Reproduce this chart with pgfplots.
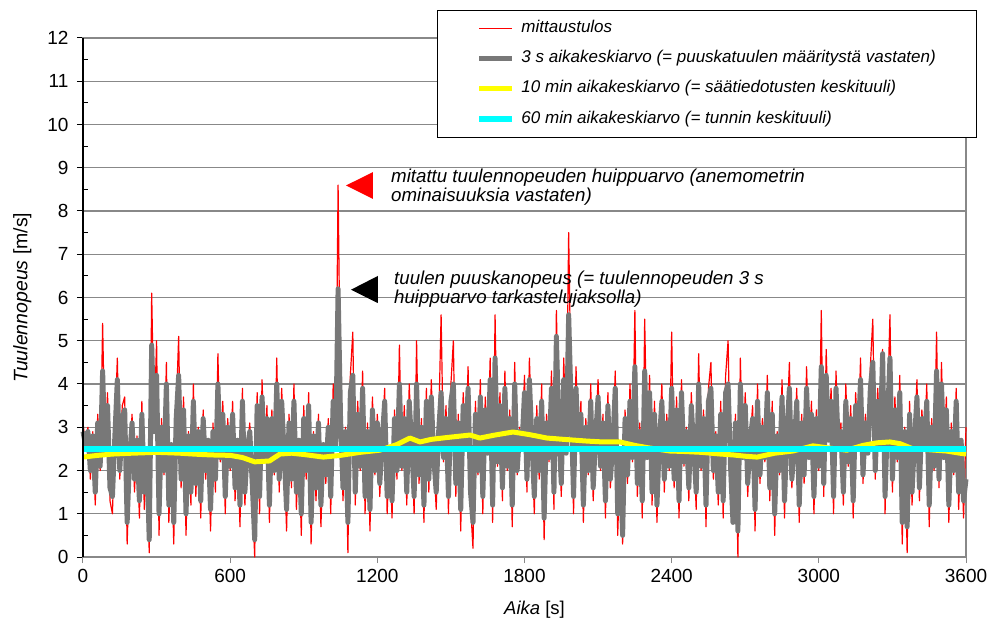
\documentclass[border=0pt]{standalone}
\usepackage{fontspec}
\setmainfont{Liberation Sans}
\usepackage{pgfplots}
\pgfplotsset{compat=1.18}
\usepackage{pgfplotstable}
\definecolor{gridc}{RGB}{136,136,136}
\definecolor{greyc}{RGB}{120,120,120}
\definecolor{yel}{RGB}{255,255,0}
\definecolor{cya}{RGB}{0,255,255}
\pgfplotstableread{
t r g
0 3.1 2.9
10 2.6 2.6
20 3.0 2.9
30 1.8 2.0
40 2.9 2.8
50 1.2 1.5
60 3.3 3.1
70 2.0 2.1
80 5.4 4.3
90 2.4 2.4
100 3.8 3.5
110 1.3 1.6
120 1.0 1.4
130 2.9 2.8
140 4.6 4.1
150 1.8 2.0
160 3.5 3.2
170 3.7 3.4
180 0.3 0.8
190 2.2 2.3
200 3.3 3.1
210 1.5 1.8
220 2.8 2.7
230 0.9 1.3
240 3.6 3.3
250 1.1 1.5
260 2.4 2.4
270 0.1 0.4
280 6.1 4.9
290 3.0 2.9
300 5.0 4.2
310 0.5 1.0
320 3.2 3.0
330 1.9 2.0
340 4.5 4.0
350 0.8 1.2
360 2.6 2.6
370 0.3 0.8
380 3.4 3.2
390 5.1 4.2
400 1.6 1.8
410 3.7 3.4
420 0.5 1.0
430 2.9 2.8
440 1.2 1.5
450 4.0 3.6
460 1.4 1.7
470 3.0 2.9
480 0.9 1.3
490 3.4 3.2
500 1.8 2.0
510 2.7 2.7
520 0.6 1.1
530 3.1 2.9
540 1.5 1.8
550 4.7 4.0
560 2.2 2.3
570 3.6 3.3
580 1.0 1.4
590 3.2 3.0
600 2.0 2.1
610 3.6 3.3
620 1.3 1.6
630 2.7 2.7
640 0.7 1.2
650 3.9 3.6
660 1.2 1.5
670 2.5 2.5
680 3.1 2.9
690 1.4 1.7
700 0.0 0.4
710 3.8 3.5
720 1.0 1.4
730 4.1 3.7
740 2.3 2.3
750 3.5 3.2
760 0.8 1.2
770 3.4 3.2
780 1.9 2.0
790 4.6 4.0
800 1.5 1.8
810 3.9 3.6
820 2.4 2.4
830 0.6 1.1
840 3.3 3.1
850 1.6 1.8
860 4.0 3.6
870 1.1 1.5
880 2.7 2.7
890 0.5 1.0
900 3.5 3.2
910 1.8 2.0
920 3.8 3.5
930 0.3 0.8
940 2.9 2.8
950 1.3 1.6
960 3.3 3.1
970 0.7 1.2
980 2.6 2.6
990 1.7 1.9
1000 3.2 3.0
1010 1.0 1.4
1020 4.0 3.6
1030 2.5 2.5
1040 8.6 6.2
1050 3.5 3.2
1060 1.3 1.6
1070 3.0 2.9
1080 0.1 0.8
1090 4.2 3.8
1100 5.2 4.2
1110 1.2 1.5
1120 3.6 3.3
1130 2.0 2.1
1140 4.3 3.9
1150 1.0 1.4
1160 3.1 2.9
1170 0.6 1.1
1180 3.7 3.4
1190 1.9 2.0
1200 3.3 3.1
1210 1.4 1.7
1220 2.8 2.7
1230 3.9 3.6
1240 1.0 1.4
1250 2.5 2.5
1260 0.9 1.3
1270 3.4 3.2
1280 1.8 2.0
1290 4.9 4.0
1300 2.0 2.1
1310 3.5 3.2
1320 1.2 1.5
1330 4.0 3.6
1340 2.6 2.6
1350 1.0 1.4
1360 5.0 4.0
1370 1.7 1.9
1380 3.2 3.0
1390 0.8 1.2
1400 3.9 3.6
1410 1.5 1.8
1420 4.1 3.7
1430 2.3 2.3
1440 1.1 1.5
1450 3.0 2.9
1460 5.6 3.8
1470 2.2 2.3
1480 3.5 3.2
1490 1.0 1.4
1500 4.0 3.6
1510 5.0 4.0
1520 1.4 1.7
1530 3.3 3.1
1540 0.6 1.1
1550 3.8 3.5
1560 2.5 2.5
1570 4.4 3.9
1580 1.2 1.5
1590 0.2 0.8
1600 3.6 3.3
1610 1.9 2.0
1620 4.1 3.7
1630 1.0 1.4
1640 3.7 3.4
1650 2.4 2.4
1660 4.6 4.1
1670 0.8 1.2
1680 5.6 4.6
1690 2.1 2.2
1700 3.8 3.5
1710 1.3 1.6
1720 4.3 3.9
1730 2.0 2.1
1740 3.4 3.2
1750 0.7 1.2
1760 4.5 4.0
1770 1.9 2.0
1780 3.0 2.9
1790 2.6 2.6
1800 4.2 3.8
1810 1.5 1.8
1820 4.6 4.1
1830 2.7 2.7
1840 1.0 1.4
1850 3.5 3.2
1860 1.8 2.0
1870 4.0 3.6
1880 0.4 0.9
1890 3.3 3.1
1900 2.2 2.3
1910 4.3 3.9
1920 1.1 1.5
1930 5.7 5.1
1940 3.0 2.9
1950 1.4 1.7
1960 4.6 4.1
1970 2.4 2.4
1980 7.5 5.6
1990 3.8 3.5
2000 1.0 1.4
2010 4.4 3.9
2020 2.5 2.5
2030 3.6 3.3
2040 0.8 1.2
2050 3.2 3.0
2060 1.9 2.0
2070 4.0 3.6
2080 1.3 1.6
2090 2.9 2.8
2100 4.1 3.7
2110 2.0 2.1
2120 3.3 3.1
2130 0.9 1.3
2140 3.8 3.5
2150 1.6 1.8
2160 2.6 2.6
2170 4.3 3.9
2180 0.5 1.0
2190 2.4 2.4
2200 0.3 0.5
2210 3.4 3.2
2220 1.7 1.9
2230 4.0 3.6
2240 2.2 2.3
2250 5.7 4.4
2260 1.4 1.7
2270 3.1 2.9
2280 0.9 1.3
2290 5.5 4.3
2300 2.3 2.3
2310 4.2 3.8
2320 1.2 1.5
2330 3.6 3.3
2340 0.8 1.2
2350 2.7 2.7
2360 4.0 3.6
2370 1.5 1.8
2380 3.3 3.1
2390 2.0 2.1
2400 5.2 3.9
2410 1.6 1.8
2420 3.7 3.4
2430 0.9 1.3
2440 4.1 3.8
2450 2.1 2.2
2460 3.0 2.9
2470 1.3 1.6
2480 3.8 3.5
2490 2.5 2.5
2500 1.1 1.5
2510 4.7 4.0
2520 2.0 2.1
2530 3.4 3.2
2540 0.7 1.2
2550 3.9 3.6
2560 4.5 3.9
2570 1.8 2.0
2580 2.9 2.8
2590 1.2 1.5
2600 3.6 3.3
2610 0.9 1.3
2620 4.2 3.8
2630 5.0 4.0
2640 2.0 2.1
2650 1.0 0.8
2660 3.3 3.1
2670 0.0 0.6
2680 4.6 4.0
2690 2.3 2.3
2700 3.8 3.5
2710 1.4 1.7
2720 2.7 2.7
2730 3.5 3.2
2740 0.6 1.1
2750 4.0 3.6
2760 1.7 1.9
2770 3.2 3.0
2780 2.2 2.3
2790 4.2 3.8
2800 1.3 1.6
2810 3.6 3.3
2820 0.5 1.0
2830 2.9 2.8
2840 1.9 2.0
2850 4.1 3.7
2860 0.9 1.3
2870 3.0 2.9
2880 4.5 3.9
2890 1.6 1.8
2900 2.6 2.6
2910 3.9 3.6
2920 0.8 1.2
2930 3.3 3.1
2940 1.7 1.9
2950 4.4 3.9
2960 2.3 2.3
2970 3.6 3.3
2980 1.0 1.4
2990 3.4 3.2
3000 2.0 2.1
3010 5.7 4.4
3020 1.4 1.7
3030 4.8 4.2
3040 2.7 2.7
3050 3.9 3.6
3060 1.0 1.4
3070 4.3 3.9
3080 2.5 2.5
3090 3.1 2.9
3100 1.2 1.5
3110 4.0 3.6
3120 2.1 2.2
3130 3.5 3.2
3140 0.9 1.3
3150 3.8 3.5
3160 2.6 2.6
3170 4.6 4.1
3180 1.7 1.9
3190 3.3 3.1
3200 2.4 2.4
3210 4.4 3.9
3220 5.5 4.5
3230 1.8 2.0
3240 3.9 3.6
3250 2.6 2.6
3260 4.8 4.7
3270 1.0 1.4
3280 3.5 3.2
3290 5.6 4.6
3300 1.5 1.8
3310 3.7 3.4
3320 2.2 2.3
3330 4.2 3.8
3340 0.3 0.8
3350 3.0 2.9
3360 0.1 0.7
3370 3.6 3.3
3380 1.2 1.5
3390 2.8 2.7
3400 4.1 3.7
3410 1.3 1.6
3420 3.4 3.2
3430 2.5 2.5
3440 4.0 3.6
3450 0.7 1.2
3460 3.2 3.0
3470 2.0 2.1
3480 5.2 4.3
3490 1.6 1.8
3500 4.5 4.0
3510 2.3 2.3
3520 3.7 3.4
3530 0.8 1.2
3540 3.1 2.9
3550 1.9 2.0
3560 3.9 3.6
3570 1.1 1.5
3580 2.7 2.7
3590 0.9 1.3
3600 3.0 1.8
}\wind
\pgfplotstableread{
t y
0 2.31
60 2.35
120 2.38
200 2.40
300 2.42
395 2.40
450 2.38
520 2.36
600 2.35
650 2.30
700 2.20
760 2.22
803 2.38
850 2.40
900 2.37
980 2.31
1050 2.35
1130 2.42
1211 2.47
1280 2.60
1333 2.75
1374 2.66
1420 2.72
1480 2.76
1578 2.82
1618 2.75
1680 2.82
1753 2.89
1820 2.83
1892 2.75
1960 2.72
2055 2.68
2120 2.66
2189 2.66
2250 2.58
2299 2.53
2393 2.45
2450 2.44
2520 2.42
2600 2.38
2650 2.36
2700 2.33
2748 2.31
2820 2.40
2894 2.45
2976 2.57
3040 2.52
3114 2.47
3180 2.58
3237 2.64
3290 2.66
3331 2.62
3384 2.50
3450 2.48
3520 2.45
3575 2.40
3600 2.38
}\yellowavg
\begin{document}
\begin{tikzpicture}
\begin{axis}[name=ax, scale only axis, width=883pt, height=519pt,
  xmin=0, xmax=3600, ymin=0, ymax=12, clip=false,
  xtick={0,600,...,3600}, ytick={0,1,...,12}, minor y tick num=1,
  xtick pos=bottom, ytick pos=left, tick align=outside,
  major tick length=6pt, minor tick length=5pt,
  y tick style={black, line width=1pt}, x tick style={gridc, line width=1pt},
  minor y tick style={xshift=5pt},
  ymajorgrids, major grid style={gridc, line width=1.4pt},
  axis line style={gridc, line width=1.4pt},
  tick label style={font=\fontsize{19}{21}\selectfont},
  yticklabel style={xshift=-5pt},
  xticklabel style={yshift=-3pt},
  /pgf/number format/assume math mode=true,
  /pgf/number format/set thousands separator={},
  xlabel={\textit{Aika} [s]}, ylabel={\textit{Tuulennopeus} [m/s]},
  xlabel style={font=\fontsize{18.5}{20}\selectfont, xshift=10pt},
  ylabel style={font=\fontsize{19.5}{21}\selectfont},
  xlabel shift=11pt, ylabel shift=9pt,
  legend cell align=left,
  legend image code/.code={\draw[#1] (0pt,0pt) -- (33pt,0pt);},
  legend style={at={(rel axis cs:0.401,1.054)}, anchor=north west,
    draw=black, line width=0.8pt, fill=white,
    font=\fontsize{17}{19}\selectfont\itshape,
    inner xsep=39pt, inner ysep=8pt, row sep=10.3pt, column sep=4pt,
    nodes={inner sep=2pt, text height=12pt, text depth=4pt}},
]
\addplot[red, line width=1.2pt, line join=round] table[x=t, y=r] {\wind};
\addlegendentry{mittaustulos}
\addplot[greyc, line width=5pt, line join=round] table[x=t, y=g] {\wind};
\addlegendentry{3 s aikakeskiarvo (= puuskatuulen määritystä vastaten)}
\addplot[yel, line width=5pt, line join=round] table[x=t, y=y] {\yellowavg};
\addlegendentry{10 min aikakeskiarvo (= säätiedotusten keskituuli)}
\addplot[cya, line width=6pt] coordinates {(0,2.5) (3600,2.5)};
\addlegendentry{60 min aikakeskiarvo (= tunnin keskituuli)}
\draw[black, line width=1.2pt] (rel axis cs:0,0) -- (rel axis cs:0,1);
\fill[red] (axis cs:1072.2,8.59) -- (axis cs:1182.3,8.90) -- (axis cs:1182.3,8.28) -- cycle;
\fill[black] (axis cs:1092.6,6.18) -- (axis cs:1202.7,6.50) -- (axis cs:1202.7,5.87) -- cycle;
\node[anchor=base west, inner sep=0pt, font=\fontsize{18.7}{20}\selectfont\itshape] at (axis cs:1255.7,8.67) {mitattu tuulennopeuden huippuarvo (anemometrin};
\node[anchor=base west, inner sep=0pt, font=\fontsize{18.7}{20}\selectfont\itshape] at (axis cs:1255.7,8.21) {ominaisuuksia vastaten)};
\node[anchor=base west, inner sep=0pt, font=\fontsize{18.7}{20}\selectfont\itshape] at (axis cs:1267.9,6.31) {tuulen puuskanopeus (= tuulennopeuden 3 s};
\node[anchor=base west, inner sep=0pt, font=\fontsize{18.7}{20}\selectfont\itshape] at (axis cs:1267.9,5.85) {huippuarvo tarkastelujaksolla)};
\end{axis}
\pgfresetboundingbox
\path[use as bounding box] ([xshift=-83pt,yshift=-64pt]ax.south west) rectangle ([xshift=21pt,yshift=38pt]ax.north east);
\end{tikzpicture}
\end{document}
